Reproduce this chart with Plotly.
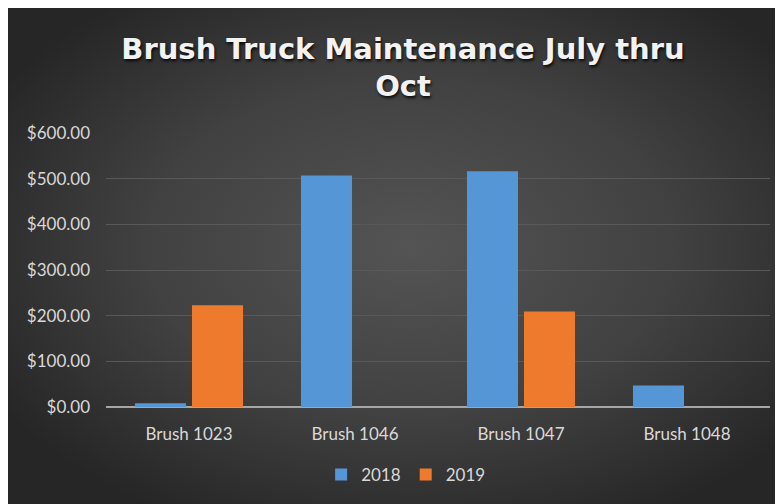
import plotly.graph_objects as go
import base64

categories = ["Brush 1023", "Brush 1046", "Brush 1047", "Brush 1048"]
values_2018 = [8, 507, 516, 47]
values_2019 = [223, 0, 209, 0]
series_names = ["2018", "2019"]
y_ticks = [0, 100, 200, 300, 400, 500, 600]
y_tick_labels = ["$0.00", "$100.00", "$200.00", "$300.00", "$400.00", "$500.00", "$600.00"]

W, H = 775, 497
L, R, T, B = 98, 13, 125, 98
PW, PH = W - L - R, H - T - B

svg = f'''<svg xmlns="http://www.w3.org/2000/svg" width="{W}" height="{H}" viewBox="0 0 {W} {H}" preserveAspectRatio="none">
<defs><radialGradient id="g" cx="52%" cy="48%" r="62%">
<stop offset="0%" stop-color="#545454"/>
<stop offset="55%" stop-color="#414141"/>
<stop offset="100%" stop-color="#262626"/>
</radialGradient></defs>
<rect width="{W}" height="{H}" fill="url(#g)"/></svg>'''
bg_src = "data:image/svg+xml;base64," + base64.b64encode(svg.encode()).decode()

fig = go.Figure()
fig.add_trace(go.Bar(name=series_names[0], x=categories, y=values_2018,
                     marker=dict(color="#5597d6", line=dict(width=0))))
fig.add_trace(go.Bar(name=series_names[1], x=categories, y=values_2019,
                     marker=dict(color="#ee7a2e", line=dict(width=0))))

tick_font = dict(family="Lato, sans-serif", size=17, color="#d9d9d9")

fig.update_layout(
    width=W, height=H,
    margin=dict(l=L, r=R, t=T, b=B),
    paper_bgcolor="#333333",
    plot_bgcolor="rgba(0,0,0,0)",
    barmode="group",
    bargap=0.313,
    bargroupgap=0.105,
    font=dict(family="Lato, sans-serif", color="#d9d9d9", size=17),
    title=dict(
        text="Brush Truck Maintenance July thru<br>Oct",
        x=395 / W, xanchor="center", y=0.898, yanchor="top",
        font=dict(family="DejaVu Sans, sans-serif", size=29, color="#f2f2f2", weight="bold",
                  shadow="1px 2px 3px rgba(0,0,0,0.85)"),
    ),
    legend=dict(orientation="h", x=0.452, xanchor="center", y=-0.248, yanchor="middle",
                font=tick_font, bgcolor="rgba(0,0,0,0)",
                itemwidth=30, traceorder="normal"),
    images=[dict(source=bg_src, xref="paper", yref="paper",
                 x=-L / PW, y=1 + T / PH, sizex=W / PW, sizey=H / PH,
                 xanchor="left", yanchor="top", layer="below", sizing="stretch")],
    xaxis=dict(showgrid=False, showline=False, ticks="", tickfont=tick_font,
               ticklabelstandoff=15),
    yaxis=dict(range=[0, 600], tickvals=y_ticks, ticktext=y_tick_labels,
               showgrid=True, gridcolor="#595959", gridwidth=1,
               zeroline=True, zerolinecolor="#a6a6a6", zerolinewidth=2,
               showline=False, ticks="", tickfont=tick_font,
               ticklabelstandoff=15),
)

fig.write_html("out.html")
